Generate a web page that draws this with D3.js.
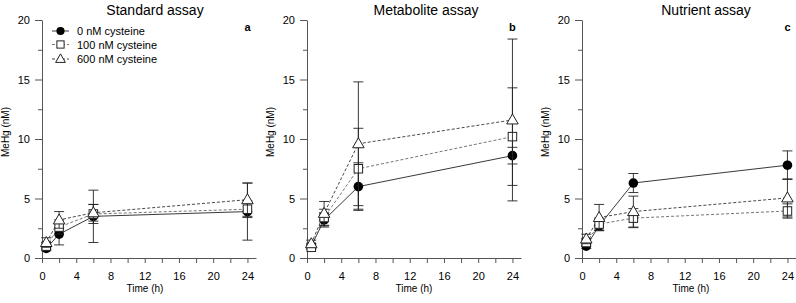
<!DOCTYPE html>
<html>
<head>
<meta charset="utf-8">
<script src="https://cdn.jsdelivr.net/npm/d3@7"></script>
<style>
  body { margin: 0; background: #fff; }
  svg { font-family: "Liberation Sans", Arial, sans-serif; }
</style>
</head>
<body>
<svg id="chart" width="796" height="303"></svg>
<script>
// Sampling times (h)
const times = [0.5, 2, 6, 24];
const xTicks = [0, 4, 8, 12, 16, 20, 24];
const yTicks = [0, 5, 10, 15, 20];

const seriesNames = ['0 nM cysteine', '100 nM cysteine', '600 nM cysteine'];

// Standard assay
const stdMean = [[0.8, 2.0, 3.5, 3.9], [1.0, 2.6, 3.7, 4.1], [1.3, 3.2, 3.8, 4.9]];
const stdErr  = [[0.2, 0.9, 2.2, 2.4], [0.3, 0.6, 0.8, 0.7], [0.4, 0.7, 0.7, 1.4]];

// Metabolite assay
const metMean = [[1.0, 3.2, 6.0, 8.6], [0.9, 3.4, 7.5, 10.2], [1.2, 3.75, 9.6, 11.6]];
const metErr  = [[0.2, 0.6, 2.0, 0.7], [0.2, 0.7, 3.4, 4.1], [0.3, 1.0, 5.2, 6.8]];

// Nutrient assay
const nutMean = [[1.0, 2.7, 6.3, 7.8], [1.3, 2.85, 3.35, 3.95], [1.6, 3.4, 3.9, 5.05]];
const nutErr  = [[0.2, 0.4, 0.8, 1.2], [0.3, 0.5, 0.8, 0.6], [0.4, 1.1, 1.3, 1.6]];

const panels = [
    { title: 'Standard assay', letter: 'a', left: 42, titleDx: 113, labelDx: 103, mean: stdMean, err: stdErr, legend: true },
    { title: 'Metabolite assay', letter: 'b', left: 307, titleDx: 119, labelDx: 107, mean: metMean, err: metErr, legend: false },
    { title: 'Nutrient assay', letter: 'c', left: 582, titleDx: 124, labelDx: 109, mean: nutMean, err: nutErr, legend: false }
];

const lineStyles = [
    { dash: null, stroke: '#222' },
    { dash: '3,2', stroke: '#666' },
    { dash: '3,2', stroke: '#333' }
];

const axisColor = '#555';
const plotTop = 20, plotBottom = 258, plotW = 214;

const svg = d3.select('#chart');

// k scales the marker (legend markers are a bit smaller)
function drawMarker(g, type, x, y, k) {
    if (type === 0) {
        g.append('circle').attr('cx', x).attr('cy', y).attr('r', 4.8 * k)
            .style('fill', '#000');
    } else if (type === 1) {
        const s = 8.5 * k;
        g.append('rect').attr('x', x - s / 2).attr('y', y - s / 2)
            .attr('width', s).attr('height', s)
            .style('fill', '#fff').style('stroke', '#222').style('stroke-width', 1);
    } else {
        const w = 11.5 * k, h = 10 * k;
        const pts = [[x, y - h * 0.6], [x + w / 2, y + h * 0.4], [x - w / 2, y + h * 0.4]];
        g.append('path').attr('d', 'M' + pts.join('L') + 'Z')
            .style('fill', '#fff').style('stroke', '#222').style('stroke-width', 1);
    }
}

panels.forEach(p => {
    const g = svg.append('g');
    const x = d3.scaleLinear().domain([0, 25]).range([p.left, p.left + plotW]);
    const y = d3.scaleLinear().domain([0, 20]).range([plotBottom, plotTop]);

    // y axis
    g.append('g').attr('transform', `translate(${p.left},0)`)
        .call(d3.axisLeft(y).tickValues(yTicks).tickSize(7).tickPadding(5).tickSizeOuter(0));
    g.append('g').attr('transform', `translate(${p.left},0)`)
        .call(d3.axisLeft(y).tickValues(d3.range(2.5, 20, 5)).tickSize(4).tickFormat('').tickSizeOuter(0))
        .select('.domain').remove();

    // x axis
    g.append('g').attr('transform', `translate(0,${plotBottom})`)
        .call(d3.axisBottom(x).tickValues(xTicks).tickSize(5).tickPadding(9).tickSizeOuter(0));
    g.append('g').attr('transform', `translate(0,${plotBottom})`)
        .call(d3.axisBottom(x).tickValues(d3.range(2, 25, 4)).tickSize(5).tickFormat('').tickSizeOuter(0))
        .select('.domain').remove();

    g.selectAll('.domain, .tick line').style('stroke', axisColor);
    g.selectAll('.tick text').style('font-size', '11px').style('fill', '#000')
        .style('font-family', '"Liberation Sans", Arial, sans-serif');

    // titles
    g.append('text').attr('x', p.left + p.titleDx).attr('y', 15)
        .attr('text-anchor', 'middle').style('font-size', '14px').text(p.title);
    g.append('text').attr('x', x(24)).attr('y', 31)
        .attr('text-anchor', 'middle').style('font-size', '11px').style('font-weight', 'bold').text(p.letter);
    g.append('text').attr('x', p.left + p.labelDx).attr('y', 292)
        .attr('text-anchor', 'middle').style('font-size', '10px').text('Time (h)');
    g.append('text').attr('transform', `translate(${p.left - 33},132) rotate(-90)`)
        .attr('text-anchor', 'middle').style('font-size', '10px').text('MeHg (nM)');

    const line = d3.line().x(d => x(d.t)).y(d => y(d.v));

    p.mean.forEach((vals, si) => {
        const pts = vals.map((v, i) => ({ t: times[i], v: v }));
        const st = lineStyles[si];
        g.append('path').datum(pts).attr('d', line)
            .style('fill', 'none').style('stroke', st.stroke).style('stroke-width', 0.9)
            .style('stroke-dasharray', st.dash);
    });

    p.mean.forEach((vals, si) => {
        vals.forEach((v, i) => {
            const e = p.err[si][i];
            const cx = x(times[i]);
            g.append('line').attr('x1', cx).attr('x2', cx).attr('y1', y(v - e)).attr('y2', y(v + e))
                .style('stroke', '#222').style('stroke-width', 0.9);
            [v - e, v + e].forEach(c => {
                g.append('line').attr('x1', cx - 5).attr('x2', cx + 5).attr('y1', y(c)).attr('y2', y(c))
                    .style('stroke', '#222').style('stroke-width', 0.9);
            });
        });
        vals.forEach((v, i) => drawMarker(g, si, x(times[i]), y(v), 1));
    });

    if (p.legend) {
        const legendY = [31, 44.5, 59];
        seriesNames.forEach((name, si) => {
            const ly = legendY[si];
            const st = lineStyles[si];
            g.append('line').attr('x1', 52).attr('x2', 69).attr('y1', ly).attr('y2', ly)
                .style('stroke', st.stroke).style('stroke-width', 0.9).style('stroke-dasharray', st.dash);
            drawMarker(g, si, 60.5, ly, 0.85);
            g.append('text').attr('x', 77).attr('y', ly + 4).style('font-size', '11px').text(name);
        });
    }
});
</script>
</body>
</html>
